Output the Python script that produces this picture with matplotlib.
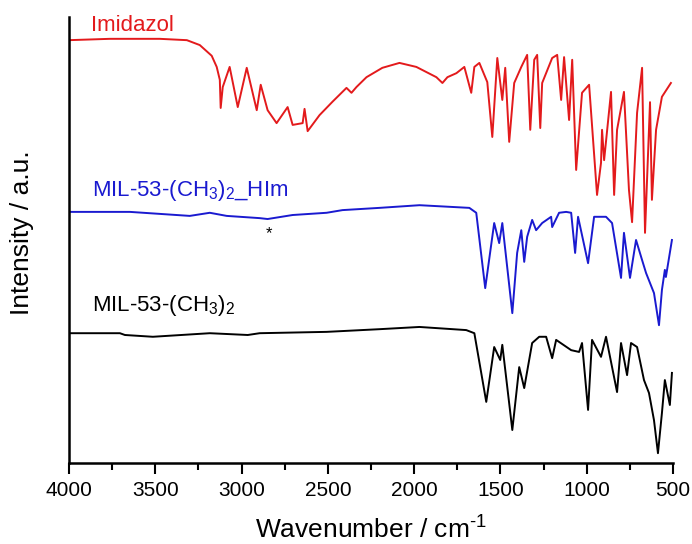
import matplotlib
matplotlib.use("Agg")
import matplotlib.pyplot as plt
from matplotlib.ticker import MultipleLocator

plt.rcParams["font.family"] = ["Liberation Sans", "DejaVu Sans"]
plt.rcParams["mathtext.fontset"] = "custom"
plt.rcParams["mathtext.rm"] = "Liberation Sans"
plt.rcParams["mathtext.it"] = "Liberation Sans:italic"
plt.rcParams["mathtext.default"] = "regular"

# Imidazol (red, top trace)
wn_im = [4000, 3763, 3474, 3317, 3242, 3173, 3144, 3126, 3121, 3109, 3069, 3022,
         2970, 2912, 2889, 2849, 2797, 2733, 2704, 2646, 2635, 2617, 2548, 2473,
         2392, 2363, 2334, 2276, 2184, 2085, 1987, 1871, 1836, 1807, 1755, 1709,
         1669, 1651, 1622, 1576, 1547, 1518, 1489, 1472, 1449, 1420, 1379, 1345,
         1327, 1304, 1287, 1269, 1258, 1200, 1171, 1148, 1131, 1102, 1084, 1061,
         1027, 986, 940, 917, 911, 899, 859, 841, 824, 784, 755, 737,
         708, 679, 662, 633, 622, 598, 564, 512]
int_im = [94.8, 95.1, 95.1, 94.8, 93.7, 91.3, 88.8, 85.9, 79.6, 84.3, 88.8, 79.8,
          88.6, 79.1, 84.8, 79.1, 76.2, 79.8, 75.8, 76.2, 79.4, 74.4, 78.0, 81.0,
          84.1, 83.0, 84.3, 86.5, 88.6, 89.7, 88.8, 86.5, 85.2, 86.5, 87.4, 88.8,
          83.0, 88.8, 89.7, 85.4, 73.1, 90.8, 81.4, 88.6, 72.0, 85.2, 88.8, 91.5,
          74.7, 90.4, 91.5, 75.1, 85.2, 90.8, 91.5, 81.4, 91.0, 76.9, 90.4, 65.7,
          83.0, 84.8, 60.1, 67.3, 74.7, 67.9, 83.2, 60.1, 74.7, 83.2, 61.2, 54.0,
          78.5, 88.6, 51.6, 80.9, 59.0, 74.7, 82.1, 85.2]

# MIL-53-(CH3)2_HIm (blue, middle trace)
wn_him = [3994, 3647, 3300, 3184, 3086, 2895, 2849, 2704, 2507, 2415, 2201, 1969,
          1680, 1640, 1588, 1536, 1507, 1489, 1431, 1403, 1379, 1362, 1345, 1316,
          1293, 1258, 1206, 1200, 1160, 1119, 1090, 1067, 1050, 992, 957, 888,
          853, 801, 784, 749, 714, 679, 656, 610, 581, 564, 547, 541, 506]
int_him = [56.3, 56.3, 55.4, 56.1, 55.4, 54.9, 54.7, 55.6, 56.1, 56.7, 57.2, 57.8,
           57.2, 56.1, 39.2, 53.8, 49.3, 53.8, 33.6, 47.1, 52.2, 45.1, 50.7, 54.5,
           52.2, 53.8, 55.2, 52.9, 56.1, 56.3, 56.1, 47.1, 55.2, 44.8, 55.2, 55.2,
           53.8, 41.5, 51.6, 41.5, 50.0, 45.5, 42.6, 38.1, 30.9, 38.8, 43.3, 41.7, 50.0]

# MIL-53-(CH3)2 (black, bottom trace)
wn_mil = [3994, 3705, 3676, 3514, 3184, 2964, 2895, 2507, 2201, 1969, 1698, 1651,
          1582, 1536, 1501, 1489, 1431, 1391, 1362, 1316, 1275, 1235, 1200, 1177,
          1090, 1044, 1027, 992, 969, 917, 888, 824, 801, 766, 743, 708,
          668, 639, 610, 587, 564, 547, 518, 506]
int_mil = [29.1, 29.1, 28.7, 28.3, 29.1, 28.7, 29.1, 29.4, 30.0, 30.5, 29.8, 29.1,
           13.7, 26.0, 23.1, 26.5, 7.4, 21.5, 16.8, 26.9, 28.3, 28.3, 23.5, 27.6,
           25.3, 24.9, 26.9, 11.9, 27.6, 23.8, 28.3, 15.9, 26.9, 19.7, 26.9, 26.0,
           18.6, 15.7, 9.6, 2.2, 11.2, 18.6, 13.0, 20.2]

labels = ["Imidazol", r"MIL-53-(CH$_3$)$_2$_HIm", r"MIL-53-(CH$_3$)$_2$"]
colors = ["#e31a1c", "#1a1ad0", "black"]

fig = plt.figure(figsize=(6.92, 5.44), dpi=100)
ax = fig.add_axes([0.0997, 0.1489, 0.8728, 0.8199])

ax.plot(wn_im, int_im, color=colors[0], lw=1.4)
ax.plot(wn_him, int_him, color=colors[1], lw=1.4)
ax.plot(wn_mil, int_mil, color=colors[2], lw=1.4)

ax.text(3873, 98.2, labels[0], color=colors[0], fontsize=16, va="center", ha="left")
ax.text(3867, 61.0, labels[1], color=colors[1], fontsize=16, va="center", ha="left")
ax.text(3867, 35.2, labels[2], color=colors[2], fontsize=16, va="center", ha="left")
ax.text(2843, 51.5, "*", color="black", fontsize=12, ha="center", va="center")

ax.set_xlim(4000, 500)
ax.set_ylim(0, 100)
ax.xaxis.set_major_locator(MultipleLocator(500))
ax.xaxis.set_minor_locator(MultipleLocator(250))
ax.tick_params(axis="x", which="major", direction="out", length=8, width=1.5,
               labelsize=15, pad=5)
ax.tick_params(axis="x", which="minor", direction="out", length=5, width=1.5)
ax.set_yticks([])
for s in ["top", "right"]:
    ax.spines[s].set_visible(False)
for s in ["left", "bottom"]:
    ax.spines[s].set_linewidth(1.8)

ax.set_xlabel(r"Wavenumber / cm$^{\text{-}1}$", fontsize=19, labelpad=12)
ax.set_ylabel("Intensity / a.u.", fontsize=19)
ax.yaxis.set_label_coords(-0.058, 0.516)

fig.savefig("out.png", dpi=100)
